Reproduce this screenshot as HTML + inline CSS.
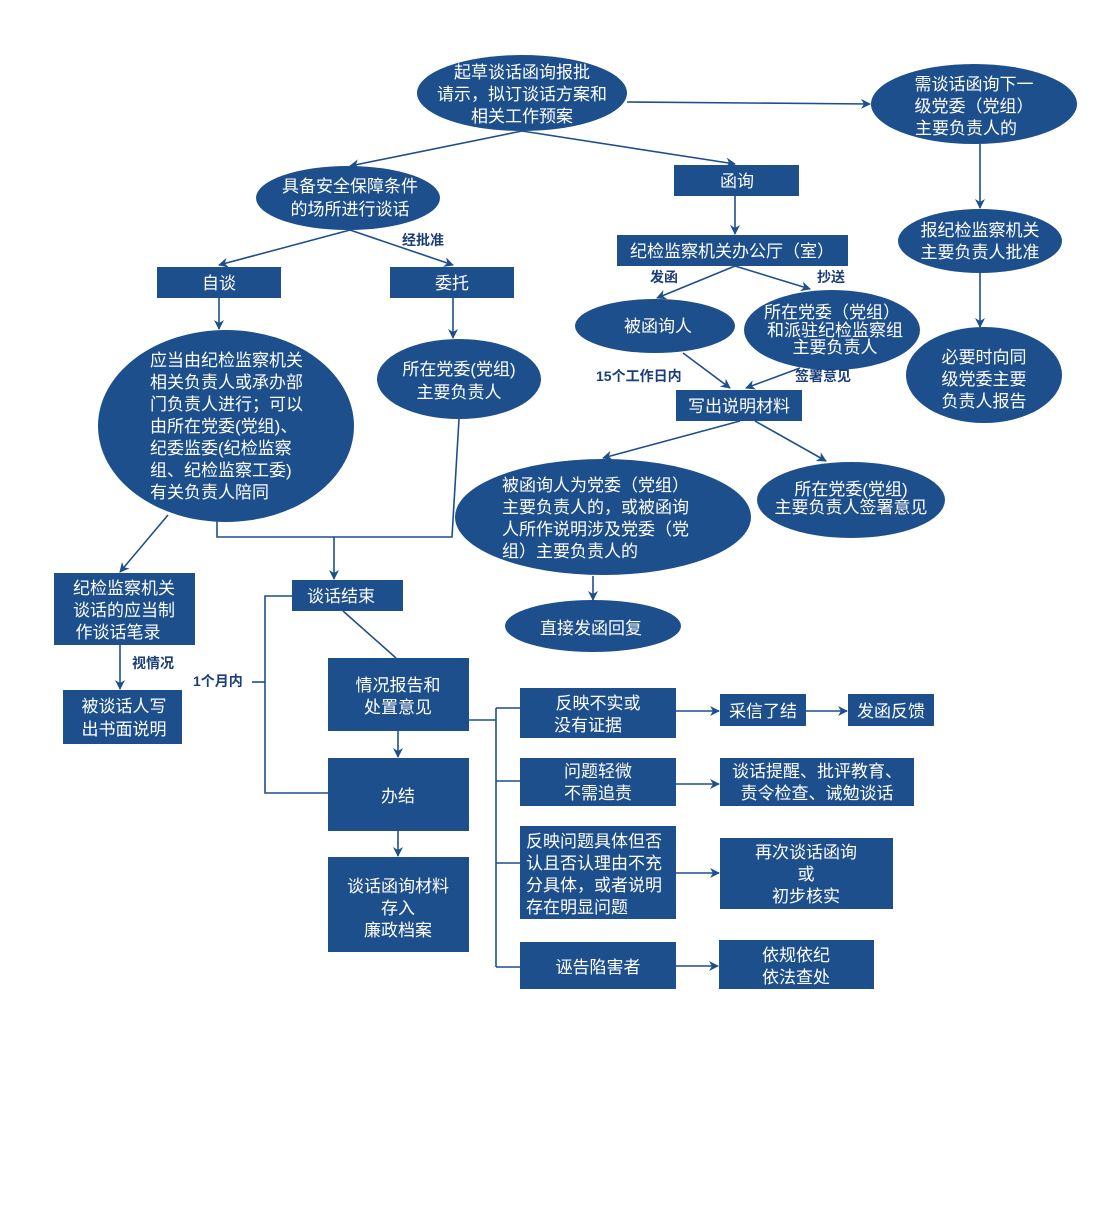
<!DOCTYPE html>
<html><head><meta charset="utf-8"><style>
html,body{margin:0;padding:0;background:#fff;}
svg text{font-family:"Liberation Sans","Noto Sans CJK SC",sans-serif;}
.w{fill:#fff;font-size:17px;}
.c{text-anchor:middle;}
.l{fill:#1c3e78;font-size:14px;font-weight:bold;}
</style></head><body>
<svg width="1096" height="1217" viewBox="0 0 1096 1217" xmlns="http://www.w3.org/2000/svg">
<defs><marker id="a" markerWidth="10" markerHeight="10" refX="9" refY="5" orient="auto" markerUnits="userSpaceOnUse"><path d="M0,0 L10,5 L0,10 L3,5 Z" fill="#1d4f8c"/></marker></defs>
<g stroke="#1d4f8c" stroke-width="1.6" fill="none">
<line x1="627" y1="102" x2="870" y2="104" marker-end="url(#a)"/>
<line x1="522" y1="131" x2="350" y2="166" marker-end="url(#a)"/>
<line x1="522" y1="131" x2="735" y2="164" marker-end="url(#a)"/>
<line x1="980" y1="144" x2="980" y2="208" marker-end="url(#a)"/>
<line x1="980" y1="273" x2="980" y2="327" marker-end="url(#a)"/>
<line x1="735" y1="196" x2="735" y2="234" marker-end="url(#a)"/>
<line x1="735" y1="266" x2="657" y2="298" marker-end="url(#a)"/>
<line x1="735" y1="266" x2="810" y2="289" marker-end="url(#a)"/>
<line x1="683" y1="353" x2="730" y2="388" marker-end="url(#a)"/>
<line x1="800" y1="368" x2="746" y2="388" marker-end="url(#a)"/>
<line x1="740" y1="421" x2="603" y2="458" marker-end="url(#a)"/>
<line x1="755" y1="421" x2="826" y2="461" marker-end="url(#a)"/>
<line x1="593" y1="576" x2="593" y2="600" marker-end="url(#a)"/>
<line x1="350" y1="230" x2="219" y2="265" marker-end="url(#a)"/>
<line x1="350" y1="230" x2="453" y2="265" marker-end="url(#a)"/>
<line x1="219" y1="298" x2="219" y2="329" marker-end="url(#a)"/>
<line x1="453" y1="298" x2="453" y2="338" marker-end="url(#a)"/>
<polyline points="459,419 452,537 217,537 217,521"/>
<line x1="334" y1="537" x2="334" y2="579" marker-end="url(#a)"/>
<line x1="168" y1="515" x2="120" y2="572" marker-end="url(#a)"/>
<line x1="120" y1="645" x2="120" y2="689" marker-end="url(#a)"/>
<polyline points="292,596 265,596 265,793 328,793"/>
<line x1="252" y1="682" x2="265" y2="682"/>
<line x1="343" y1="611" x2="396" y2="658"/>
<line x1="398" y1="731" x2="398" y2="757" marker-end="url(#a)"/>
<line x1="398" y1="831" x2="398" y2="856" marker-end="url(#a)"/>
<line x1="469" y1="720" x2="496" y2="720"/>
<line x1="496" y1="708" x2="496" y2="967"/>
<line x1="496" y1="708" x2="520" y2="708"/>
<line x1="496" y1="781" x2="520" y2="781"/>
<line x1="496" y1="863" x2="520" y2="863"/>
<line x1="496" y1="967" x2="520" y2="967"/>
<line x1="676" y1="711" x2="719" y2="711" marker-end="url(#a)"/>
<line x1="806" y1="711" x2="847" y2="711" marker-end="url(#a)"/>
<line x1="676" y1="784" x2="719" y2="784" marker-end="url(#a)"/>
<line x1="676" y1="873" x2="719" y2="873" marker-end="url(#a)"/>
<line x1="676" y1="966" x2="718" y2="966" marker-end="url(#a)"/>
</g>
<g fill="#1d4f8c">
<ellipse cx="522" cy="93" rx="105" ry="38"/>
<ellipse cx="974" cy="104" rx="103" ry="40"/>
<ellipse cx="348" cy="198" rx="92" ry="32"/>
<rect x="674" y="165" width="125" height="31"/>
<ellipse cx="980" cy="241" rx="82" ry="32"/>
<ellipse cx="984" cy="375" rx="78" ry="48"/>
<rect x="617" y="235" width="231" height="31"/>
<ellipse cx="655" cy="326" rx="80" ry="27"/>
<ellipse cx="832" cy="330" rx="88" ry="40"/>
<rect x="676" y="390" width="126" height="31"/>
<ellipse cx="603" cy="517" rx="148" ry="58"/>
<ellipse cx="851" cy="500" rx="94" ry="38"/>
<ellipse cx="593" cy="626" rx="88" ry="26"/>
<rect x="157" y="267" width="124" height="31"/>
<rect x="390" y="267" width="124" height="31"/>
<ellipse cx="226" cy="426" rx="128" ry="96"/>
<ellipse cx="459" cy="379" rx="82" ry="40"/>
<rect x="292" y="580" width="111" height="31"/>
<rect x="54" y="573" width="141" height="72"/>
<rect x="63" y="690" width="119" height="54"/>
<rect x="328" y="658" width="141" height="73"/>
<rect x="328" y="758" width="141" height="73"/>
<rect x="328" y="857" width="141" height="95"/>
<rect x="520" y="688" width="156" height="50"/>
<rect x="720" y="694" width="86" height="32"/>
<rect x="848" y="694" width="86" height="32"/>
<rect x="520" y="758" width="156" height="48"/>
<rect x="720" y="758" width="194" height="48"/>
<rect x="520" y="826" width="156" height="93"/>
<rect x="720" y="838" width="173" height="71"/>
<rect x="520" y="942" width="156" height="47"/>
<rect x="719" y="940" width="155" height="49"/>
</g>
<g class="w c">
<text x="522" y="78">起草谈话函询报批</text>
<text x="522" y="100">请示，拟订谈话方案和</text>
<text x="522" y="122">相关工作预案</text>
<text x="974" y="90">需谈话函询下一</text>
<text x="974" y="112">级党委（党组）</text>
<text x="966" y="134">主要负责人的</text>
<text x="350" y="192">具备安全保障条件</text>
<text x="350" y="215">的场所进行谈话</text>
<text x="737" y="187">函询</text>
<text x="980" y="236">报纪检监察机关</text>
<text x="980" y="258">主要负责人批准</text>
<text x="984" y="363">必要时向同</text>
<text x="984" y="385">级党委主要</text>
<text x="984" y="407">负责人报告</text>
<text x="732" y="257">纪检监察机关办公厅（室）</text>
<text x="658" y="332">被函询人</text>
<text x="832" y="318">所在党委（党组）</text>
<text x="835" y="336">和派驻纪检监察组</text>
<text x="835" y="353">主要负责人</text>
<text x="739" y="412">写出说明材料</text>
<text x="851" y="495">所在党委(党组)</text>
<text x="851" y="513">主要负责人签署意见</text>
<text x="591" y="634">直接发函回复</text>
<text x="219" y="289">自谈</text>
<text x="452" y="289">委托</text>
<text x="459" y="375">所在党委(党组)</text>
<text x="459" y="398">主要负责人</text>
<text x="341" y="602">谈话结束</text>
<text x="124" y="594">纪检监察机关</text>
<text x="124" y="616">谈话的应当制</text>
<text x="118" y="638">作谈话笔录</text>
<text x="124" y="712">被谈话人写</text>
<text x="124" y="735">出书面说明</text>
<text x="398" y="691">情况报告和</text>
<text x="398" y="713">处置意见</text>
<text x="398" y="802">办结</text>
<text x="398" y="892">谈话函询材料</text>
<text x="398" y="914">存入</text>
<text x="398" y="936">廉政档案</text>
<text x="598" y="709">反映不实或</text>
<text x="588" y="731">没有证据</text>
<text x="598" y="777">问题轻微</text>
<text x="598" y="799">不需追责</text>
<text x="763" y="717">采信了结</text>
<text x="891" y="717">发函反馈</text>
<text x="817" y="777">谈话提醒、批评教育、</text>
<text x="817" y="799">责令检查、诫勉谈话</text>
<text x="598" y="973">诬告陷害者</text>
<text x="806" y="858">再次谈话函询</text>
<text x="806" y="880">或</text>
<text x="806" y="902">初步核实</text>
<text x="796" y="961">依规依纪</text>
<text x="796" y="983">依法查处</text>
</g>
<g class="w">
<text x="150" y="366">应当由纪检监察机关</text>
<text x="150" y="388">相关负责人或承办部</text>
<text x="150" y="410">门负责人进行；可以</text>
<text x="150" y="432">由所在党委(党组)、</text>
<text x="150" y="454">纪委监委(纪检监察</text>
<text x="150" y="476">组、纪检监察工委)</text>
<text x="150" y="498">有关负责人陪同</text>
<text x="502" y="491">被函询人为党委（党组）</text>
<text x="502" y="513">主要负责人的，或被函询</text>
<text x="502" y="535">人所作说明涉及党委（党</text>
<text x="502" y="557">组）主要负责人的</text>
<text x="526" y="847">反映问题具体但否</text>
<text x="526" y="869">认且否认理由不充</text>
<text x="526" y="891">分具体，或者说明</text>
<text x="526" y="913">存在明显问题</text>
</g>
<g class="l">
<text x="402" y="245">经批准</text>
<text x="650" y="282">发函</text>
<text x="817" y="282">抄送</text>
<text x="596" y="381">15个工作日内</text>
<text x="795" y="381">签署意见</text>
<text x="132" y="668">视情况</text>
<text x="193" y="686">1个月内</text>
</g>
</svg>
</body></html>
